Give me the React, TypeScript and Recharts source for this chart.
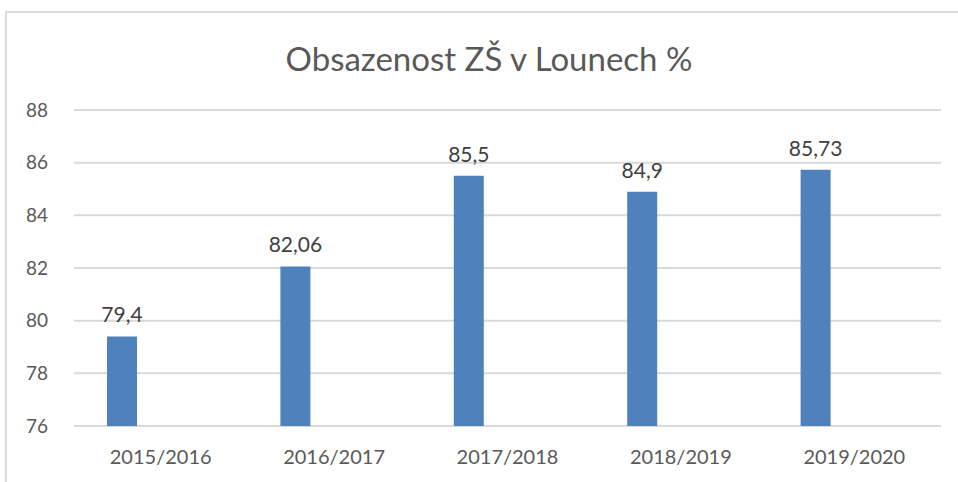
import { Bar, BarChart, CartesianGrid, LabelList, XAxis, YAxis } from "recharts"

const years = ["2015/2016", "2016/2017", "2017/2018", "2018/2019", "2019/2020"]
const occupancy = [79.4, 82.06, 85.5, 84.9, 85.73]
const yTicks = [76, 78, 80, 82, 84, 86, 88]

const data = years.map((year, i) => ({ year, value: occupancy[i], blank: null }))

const font = "Lato, 'Open Sans', sans-serif"

export default function App() {
  return (
    <div style={{ position: "absolute", left: 0, top: 0, width: 958, height: 482, overflow: "hidden", background: "#fff" }}>
      <div
        style={{
          position: "absolute",
          left: 5,
          top: 11,
          width: 1000,
          height: 500,
          borderLeft: "2px solid #d9d9d9",
          borderTop: "2px solid #d9d9d9",
        }}
      />
      <div
        style={{
          position: "absolute",
          left: 0,
          width: 978,
          top: 36,
          textAlign: "center",
          fontFamily: font,
          fontSize: 33,
          color: "#595959",
          lineHeight: "44px",
        }}
      >
        Obsazenost ZŠ v Lounech %
      </div>
      <div style={{ position: "absolute", left: 0, top: 0 }}>
        <BarChart
          width={958}
          height={482}
          data={data}
          margin={{ top: 110, right: 17, bottom: 26, left: 0 }}
          barGap={47}
          barSize={30}
        >
          <CartesianGrid vertical={false} stroke="#d9d9d9" strokeWidth={2} />
          <XAxis
            dataKey="year"
            height={30}
            axisLine={false}
            tickLine={false}
            tickMargin={18}
            tick={{ fill: "#595959", fontSize: 20, fontFamily: font }}
          />
          <YAxis
            width={74}
            domain={[76, 88]}
            ticks={yTicks}
            allowDataOverflow
            axisLine={false}
            tickLine={false}
            tickMargin={20}
            tick={{ fill: "#595959", fontSize: 19, fontFamily: font }}
          />
          <Bar dataKey="value" fill="#4f81bd" isAnimationActive={false}>
            <LabelList
              dataKey="value"
              position="top"
              offset={14}
              formatter={(v: number) => String(v).replace(".", ",")}
              style={{ fill: "#404040", fontSize: 21, fontFamily: font }}
            />
          </Bar>
          <Bar dataKey="blank" fill="#4f81bd" isAnimationActive={false} />
        </BarChart>
      </div>
    </div>
  )
}
